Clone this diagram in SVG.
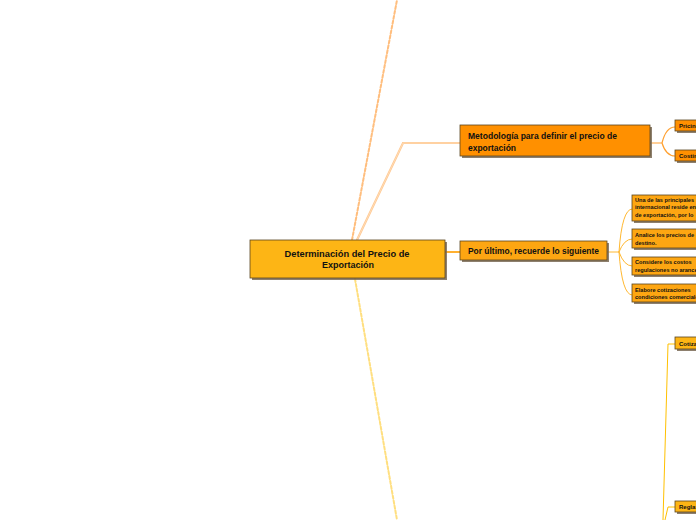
<svg xmlns="http://www.w3.org/2000/svg" width="696" height="520" viewBox="0 0 696 520">
<style>
.sh{fill:#7a6a55;opacity:0.85}
.bx{stroke:#5a4520;stroke-width:0.8}
.c0{fill:#FDB515}
.c1{fill:#FF9000}
.c2{fill:#FDA612}
.t{font-family:"Liberation Sans",Arial,sans-serif;font-weight:bold;fill:#111}
.lk{fill:none;stroke-linecap:round}
</style>
<g id="connectors">
<path class="lk" d="M352,240 L397,0" stroke="#FFBE7E" stroke-width="2" stroke-dasharray="3,2"/>
<path class="lk" d="M355,279 L397,520" stroke="#FFDF80" stroke-width="2" stroke-dasharray="3,2"/>
<path class="lk" d="M357,240 L403,143 L460,143" stroke="#FFC890" stroke-width="2.2"/>
<path class="lk" d="M357,240 L403,143 L460,143" stroke="#FFE2C4" stroke-width="0.7"/>
<path class="lk" d="M445,252 L460,252" stroke="#FFB030" stroke-width="2"/>
<path class="lk" d="M650,143 L662,143 Q666,127 675,127 M662,143 Q666,156 675,156" stroke="#FFA030" stroke-width="1.2"/>
<path class="lk" d="M607,252 L619,252 Q622,209 632,209 M619,252 Q624,239 632,239 M619,252 Q624,266 632,266 M619,252 Q622,295 632,295" stroke="#FFB830" stroke-width="1"/>
<path class="lk" d="M663,520 L668,344 L675,344 M665,520 L668,507 L675,507" stroke="#FFC000" stroke-width="1"/>
</g>
<g id="n0">
<rect class="sh" x="252" y="242" width="195" height="38"/>
<rect class="bx c0" x="250" y="240" width="195" height="38"/>
<text class="t" font-size="9.5" text-anchor="middle"><tspan x="347" y="257" textLength="125" lengthAdjust="spacingAndGlyphs">Determinación del Precio de</tspan><tspan x="348" y="268" textLength="52" lengthAdjust="spacingAndGlyphs">Exportación</tspan></text>
</g>
<g id="n1">
<rect class="sh" x="462" y="127" width="190" height="31"/>
<rect class="bx c1" x="460" y="125" width="190" height="31"/>
<text class="t" font-size="9.5"><tspan x="468" y="139" textLength="149" lengthAdjust="spacingAndGlyphs">Metodología para definir el precio de</tspan><tspan x="468" y="151" textLength="48" lengthAdjust="spacingAndGlyphs">exportación</tspan></text>
</g>
<g id="n2">
<rect class="sh" x="462" y="243" width="147" height="19"/>
<rect class="bx c2" x="460" y="241" width="147" height="19"/>
<text class="t" font-size="9.5" x="468" y="254" textLength="131" lengthAdjust="spacingAndGlyphs">Por último, recuerde lo siguiente</text>
</g>
<g id="n3">
<rect class="sh" x="677" y="122" width="40" height="11"/>
<rect class="bx c1" x="675" y="120" width="40" height="11"/>
<text class="t" font-size="6" x="679" y="128">Pricing</text>
</g>
<g id="n4">
<rect class="sh" x="677" y="152" width="40" height="11"/>
<rect class="bx c1" x="675" y="150" width="40" height="11"/>
<text class="t" font-size="6" x="679" y="158">Costing</text>
</g>
<g id="n5">
<rect class="sh" x="634" y="197" width="80" height="26"/>
<rect class="bx c2" x="632" y="195" width="80" height="26"/>
<text class="t" font-size="5.6"><tspan x="635" y="202">Una de las principales</tspan><tspan x="635" y="209">internacional reside en</tspan><tspan x="635" y="216.5">de exportación, por lo</tspan></text>
</g>
<g id="n6">
<rect class="sh" x="634" y="231" width="80" height="19"/>
<rect class="bx c2" x="632" y="229" width="80" height="19"/>
<text class="t" font-size="5.6"><tspan x="635" y="237">Analice los precios de</tspan><tspan x="635" y="244.5">destino.</tspan></text>
</g>
<g id="n7">
<rect class="sh" x="634" y="259" width="80" height="18"/>
<rect class="bx c2" x="632" y="257" width="80" height="18"/>
<text class="t" font-size="5.6"><tspan x="635" y="264">Considere los costos</tspan><tspan x="635" y="271.5">regulaciones no arancelarias</tspan></text>
</g>
<g id="n8">
<rect class="sh" x="634" y="286" width="80" height="18"/>
<rect class="bx c2" x="632" y="284" width="80" height="18"/>
<text class="t" font-size="5.6"><tspan x="635" y="291.5">Elabore cotizaciones</tspan><tspan x="635" y="299">condiciones comerciales</tspan></text>
</g>
<g id="n9">
<rect class="sh" x="677" y="339" width="40" height="12"/>
<rect class="bx c0" x="675" y="337" width="40" height="12"/>
<text class="t" font-size="6" x="679" y="345.5">Cotización</text>
</g>
<g id="n10">
<rect class="sh" x="677" y="503" width="40" height="11"/>
<rect class="bx c0" x="675" y="501" width="40" height="11"/>
<text class="t" font-size="6" x="679" y="509">Reglas</text>
</g>
</svg>
